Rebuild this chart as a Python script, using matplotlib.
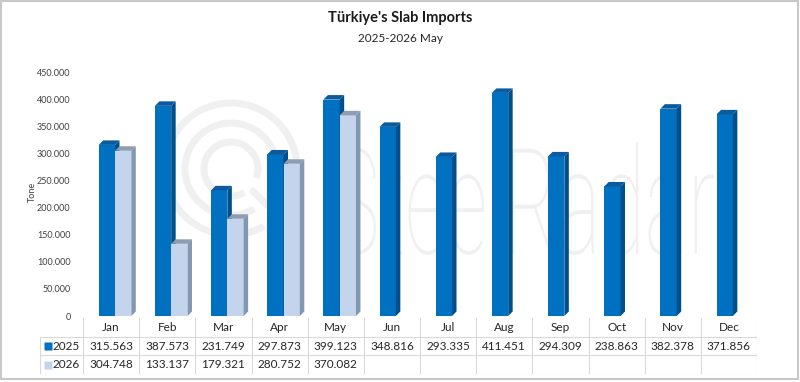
"""
Türkiye slab imports, 2025 vs 2026 (Jan-May), Excel-style 3D column chart with data table.
"""

import matplotlib

matplotlib.use("Agg")
import matplotlib.pyplot as plt
from matplotlib.font_manager import FontProperties
from matplotlib.patches import Arc, PathPatch, Polygon, Rectangle
from matplotlib.textpath import TextPath
from matplotlib.transforms import Affine2D

plt.rcParams["font.family"] = ["Lato", "DejaVu Sans"]

MONTHS = ["Jan", "Feb", "Mar", "Apr", "May", "Jun", "Jul", "Aug", "Sep", "Oct", "Nov", "Dec"]
IMPORTS_2025 = [315563, 387573, 231749, 297873, 399123, 348816, 293335, 411451, 294309, 238863, 382378, 371856]
IMPORTS_2026 = [304748, 133137, 179321, 280752, 370082]
SERIES_NAMES = ["2025", "2026"]
Y_TICKS = [0, 50000, 100000, 150000, 200000, 250000, 300000, 350000, 400000, 450000]

W, H = 800, 382
# front / top / side colours per series
STYLE = {
    "2025": ("#0070c0", "#0b5a9c", "#004f8a"),
    "2026": ("#c3d4ec", "#8e9db2", "#8497b0"),
}
BAR_W = 0.29
DEPTH_X = 0.08
DEPTH_Y = 8300


def fmt_thousands(v):
    return f"{v:,}".replace(",", ".")


def px_box(x0, y0, x1, y1):
    # pixel box (top-left origin) -> figure fraction rect
    return [x0 / W, 1 - y1 / H, (x1 - x0) / W, (y1 - y0) / H]


def draw_bar(ax, x0, v, colors):
    front, top, side = colors
    ax.add_patch(Rectangle((x0, 0), BAR_W, v, facecolor=front, edgecolor="none", zorder=3))
    ax.add_patch(Polygon([(x0, v), (x0 + BAR_W, v), (x0 + BAR_W + DEPTH_X, v + DEPTH_Y), (x0 + DEPTH_X, v + DEPTH_Y)],
                         closed=True, facecolor=top, edgecolor="none", zorder=3))
    ax.add_patch(Polygon([(x0 + BAR_W, 0), (x0 + BAR_W + DEPTH_X, DEPTH_Y), (x0 + BAR_W + DEPTH_X, v + DEPTH_Y), (x0 + BAR_W, v)],
                         closed=True, facecolor=side, edgecolor="none", zorder=3))


def draw_watermark(fig):
    bg = fig.add_axes([0, 0, 1, 1])
    bg.set_xlim(0, W)
    bg.set_ylim(H, 0)
    bg.axis("off")
    wm = "#f0f0f0"
    cx, cy = 231, 169
    for r in (66, 46, 27):
        bg.add_patch(Arc((cx, cy), 2 * r, 2 * r, theta1=60, theta2=20, color=wm, lw=5))
    bg.plot([cx + 22, cx + 62], [cy + 22, cy + 62], color=wm, lw=5, solid_capstyle="round")
    tp = TextPath((0, 0), "SteelRadar", size=100, prop=FontProperties(family="Roboto", weight="light"))
    ext = tp.get_extents()
    sx = (714 - 335) / ext.width
    sy = (255 - 143) / ext.height
    tr = Affine2D().translate(-ext.x0, -ext.y0).scale(sx, -sy).translate(335, 255)
    bg.add_patch(PathPatch(tr.transform_path(tp), facecolor=wm, edgecolor="none"))
    # frame
    bg.add_patch(Rectangle((1, 1), W - 3, H - 4, fill=False, edgecolor="#c8c8c8", lw=1.5))


def draw_table(fig, n):
    left_px, right_px = 40, 757
    cat_px = (right_px - 83) / n
    x_left = -0.5 - (83 - left_px) / cat_px
    tab = fig.add_axes(px_box(left_px, 318, right_px, 374))
    tab.set_xlim(x_left, n - 0.5)
    tab.set_ylim(3, 0)
    tab.axis("off")
    line = dict(color="#d9d9d9", lw=0.8)
    for i in range(n + 1):
        tab.plot([i - 0.5, i - 0.5], [0, 3], **line)
    tab.plot([x_left, x_left], [1, 3], **line)
    for y in (1, 2, 3):
        tab.plot([x_left, n - 0.5], [y, y], **line)

    txt = dict(ha="center", va="center", fontsize=8.5, color="#262626")
    for i, m in enumerate(MONTHS):
        tab.text(i, 0.5, m, **txt)
    rows = [IMPORTS_2025, IMPORTS_2026]
    for r, (name, vals) in enumerate(zip(SERIES_NAMES, rows)):
        y = r + 1.5
        tab.plot([x_left + 0.14], [y], marker="s", ms=5.5, color=STYLE[name][0], mec="none")
        tab.text(x_left + 0.23, y, name, ha="left", va="center", fontsize=8.5, color="#262626")
        for i, v in enumerate(vals):
            tab.text(i, y, fmt_thousands(v), **txt)


def main():
    fig = plt.figure(figsize=(W / 100, H / 100), dpi=100)
    fig.patch.set_facecolor("white")
    draw_watermark(fig)

    ax = fig.add_axes(px_box(83, 72, 757, 316))
    ax.patch.set_alpha(0)
    n = len(MONTHS)
    ax.set_xlim(-0.5, n - 0.5)
    ax.set_ylim(0, Y_TICKS[-1])
    for i, v in enumerate(IMPORTS_2025):
        draw_bar(ax, i - 0.22, v, STYLE["2025"])
    for i, v in enumerate(IMPORTS_2026):
        draw_bar(ax, i + 0.07, v, STYLE["2026"])

    ax.set_yticks(Y_TICKS)
    ax.set_yticklabels([fmt_thousands(t) for t in Y_TICKS], fontsize=6.5, color="#404040")
    ax.tick_params(axis="y", length=0, pad=9)
    ax.set_xticks([])
    for s in ax.spines.values():
        s.set_visible(False)

    fig.text(32 / W, 1 - 192 / H, "Tone", rotation=90, ha="center", va="center", fontsize=6.5, color="#404040")
    fig.text(0.5, 1 - 18 / H, "Türkiye's Slab Imports", ha="center", va="center",
             fontsize=10.5, fontweight="bold", color="#1a1a1a")
    fig.text(0.5, 1 - 38 / H, "2025-2026 May", ha="center", va="center", fontsize=8.5, color="#262626")

    draw_table(fig, n)
    fig.savefig("out.png", dpi=100)
    plt.close(fig)


if __name__ == "__main__":
    main()
